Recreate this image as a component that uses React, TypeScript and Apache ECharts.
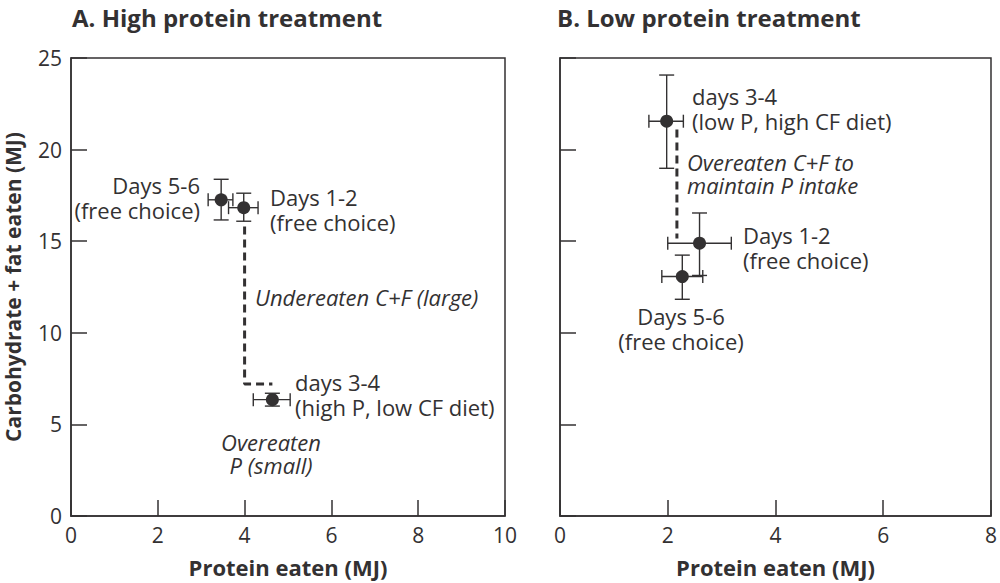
import React, { useEffect, useRef } from "react";
import * as echarts from "echarts";

// point order: Days 1-2, days 3-4, Days 5-6
const periods = ["Days 1-2", "days 3-4", "Days 5-6"];

// A. high protein treatment
const highX = [3.98, 4.64, 3.46];
const highY = [16.83, 6.35, 17.26];
const highXLo = [3.63, 4.2, 3.16];
const highXHi = [4.31, 5.05, 3.73];
const highYLo = [16.09, 6.0, 16.16];
const highYHi = [17.62, 6.7, 18.38];
const highShift = [
  [4.0, 15.8],
  [4.0, 7.2],
  [4.64, 7.2],
];

// B. low protein treatment
const lowX = [2.59, 1.98, 2.27];
const lowY = [14.89, 21.55, 13.07];
const lowXLo = [2.0, 1.65, 1.89];
const lowXHi = [3.18, 2.29, 2.65];
const lowYLo = [13.13, 18.98, 11.83];
const lowYHi = [16.54, 24.07, 14.24];
const lowShift = [
  [2.17, 21.1],
  [2.17, 15.15],
];

const yTicks = [0, 5, 10, 15, 20, 25];

const INK = "#333132";
const FONT = "'Open Sans', sans-serif";

const errRender = (params: any, api: any) => {
  const x = api.value(0);
  const y = api.value(1);
  const l = api.coord([api.value(2), y]);
  const r = api.coord([api.value(3), y]);
  const b = api.coord([x, api.value(4)]);
  const t = api.coord([x, api.value(5)]);
  const cw = 7.5;
  const ch = 6.5;
  const st = { stroke: INK, lineWidth: 1.4 };
  const ln = (x1: number, y1: number, x2: number, y2: number) => ({
    type: "line",
    shape: { x1, y1, x2, y2 },
    style: st,
  });
  return {
    type: "group",
    children: [
      ln(l[0], l[1], r[0], r[1]),
      ln(l[0], l[1] - ch, l[0], l[1] + ch),
      ln(r[0], r[1] - ch, r[0], r[1] + ch),
      ln(t[0], t[1], b[0], b[1]),
      ln(t[0] - cw, t[1], t[0] + cw, t[1]),
      ln(b[0] - cw, b[1], b[0] + cw, b[1]),
    ],
  };
};

const note = (x: number, y: number, text: string, opts: any = {}) => ({
  type: "text",
  x,
  y,
  style: {
    text,
    font: `${opts.italic ? "italic " : ""}22px ${FONT}`,
    fill: INK,
    lineHeight: opts.lh || 25,
    align: opts.align || "left",
    verticalAlign: "top",
  },
});

const App = () => {
  const ref = useRef<HTMLDivElement>(null);

  useEffect(() => {
    document.body.style.margin = "0";
    if (!ref.current) return;
    const chart = echarts.init(ref.current, null, { renderer: "svg" });

    const axisCommon = {
      axisLine: { show: true, lineStyle: { color: INK, width: 1.5 } },
      axisTick: { show: true, inside: true, length: 16, lineStyle: { color: INK, width: 1.5 } },
      splitLine: { show: false },
    };

    const xAxis = (idx: number, max: number) => ({
      type: "value",
      gridIndex: idx,
      min: 0,
      max,
      interval: 2,
      name: "Protein eaten (MJ)",
      nameLocation: "middle",
      nameGap: 40,
      nameTextStyle: { fontFamily: FONT, fontWeight: "bold", fontSize: 22, color: INK },
      axisLabel: { fontFamily: FONT, fontSize: 21, color: INK, margin: 8 },
      ...axisCommon,
    });

    const yAxis = (idx: number, showLabels: boolean) => ({
      type: "value",
      gridIndex: idx,
      min: yTicks[0],
      max: yTicks[yTicks.length - 1],
      interval: 5,
      name: showLabels ? "Carbohydrate + fat eaten (MJ)" : "",
      nameLocation: "middle",
      nameGap: 48,
      nameTextStyle: { fontFamily: FONT, fontWeight: "bold", fontSize: 21, color: INK },
      axisLabel: { show: showLabels, fontFamily: FONT, fontSize: 21, color: INK, margin: 9 },
      ...axisCommon,
    });

    const errData = (xs: number[], ys: number[], xl: number[], xh: number[], yl: number[], yh: number[]) =>
      xs.map((x, i) => ({ name: periods[i], value: [x, ys[i], xl[i], xh[i], yl[i], yh[i]] }));

    const dotData = (xs: number[], ys: number[]) => xs.map((x, i) => ({ name: periods[i], value: [x, ys[i]] }));

    const dashed = (idx: number, data: number[][]) => ({
      type: "line",
      xAxisIndex: idx,
      yAxisIndex: idx,
      data,
      symbol: "none",
      lineStyle: { color: INK, width: 3, type: [8, 5] },
      z: 1,
    });

    const options = {
      animation: false,
      textStyle: { fontFamily: FONT },
      grid: [
        { left: 71, top: 58, width: 434, height: 462, show: true, borderColor: INK, borderWidth: 1.5 },
        { left: 560, top: 58, width: 434, height: 462, show: true, borderColor: INK, borderWidth: 1.5 },
      ],
      xAxis: [xAxis(0, 10), xAxis(1, 8)],
      yAxis: [yAxis(0, true), yAxis(1, false)],
      series: [
        dashed(0, highShift),
        dashed(1, lowShift),
        {
          type: "custom",
          xAxisIndex: 0,
          yAxisIndex: 0,
          renderItem: errRender,
          encode: { x: 0, y: 1 },
          data: errData(highX, highY, highXLo, highXHi, highYLo, highYHi),
          z: 2,
        },
        {
          type: "custom",
          xAxisIndex: 1,
          yAxisIndex: 1,
          renderItem: errRender,
          encode: { x: 0, y: 1 },
          data: errData(lowX, lowY, lowXLo, lowXHi, lowYLo, lowYHi),
          z: 2,
        },
        {
          type: "scatter",
          xAxisIndex: 0,
          yAxisIndex: 0,
          data: dotData(highX, highY),
          symbolSize: 13,
          itemStyle: { color: INK, opacity: 1 },
          z: 3,
        },
        {
          type: "scatter",
          xAxisIndex: 1,
          yAxisIndex: 1,
          data: dotData(lowX, lowY),
          symbolSize: 13,
          itemStyle: { color: INK, opacity: 1 },
          z: 3,
        },
      ],
      graphic: [
        {
          type: "text",
          x: 72,
          y: 17,
          style: {
            text: "A. High protein treatment",
            font: `bold 24px ${FONT}`,
            fill: INK,
            verticalAlign: "middle",
          },
        },
        {
          type: "text",
          x: 557,
          y: 17,
          style: {
            text: "B. Low protein treatment",
            font: `bold 24px ${FONT}`,
            fill: INK,
            verticalAlign: "middle",
          },
        },
        // panel A notes
        note(200, 172.5, "Days 5-6\n(free choice)", { align: "right" }),
        note(270, 184.5, "Days 1-2\n(free choice)"),
        note(255, 284.5, "Undereaten C+F (large)", { italic: true }),
        note(295, 369.5, "days 3-4\n(high P, low CF diet)"),
        note(271, 430, "Overeaten\nP (small)", { italic: true, align: "center", lh: 23 }),
        // panel B notes
        note(692, 83.5, "days 3-4\n(low P, high CF diet)"),
        note(687, 150.5, "Overeaten C+F to\nmaintain P intake", { italic: true, lh: 23 }),
        note(743, 222, "Days 1-2\n(free choice)"),
        note(681, 303.5, "Days 5-6\n(free choice)", { align: "center" }),
      ],
    };

    chart.setOption(options as any);
    return () => chart.dispose();
  }, []);

  return <div ref={ref} style={{ width: "1000px", height: "583px" }} />;
};

export default App;
